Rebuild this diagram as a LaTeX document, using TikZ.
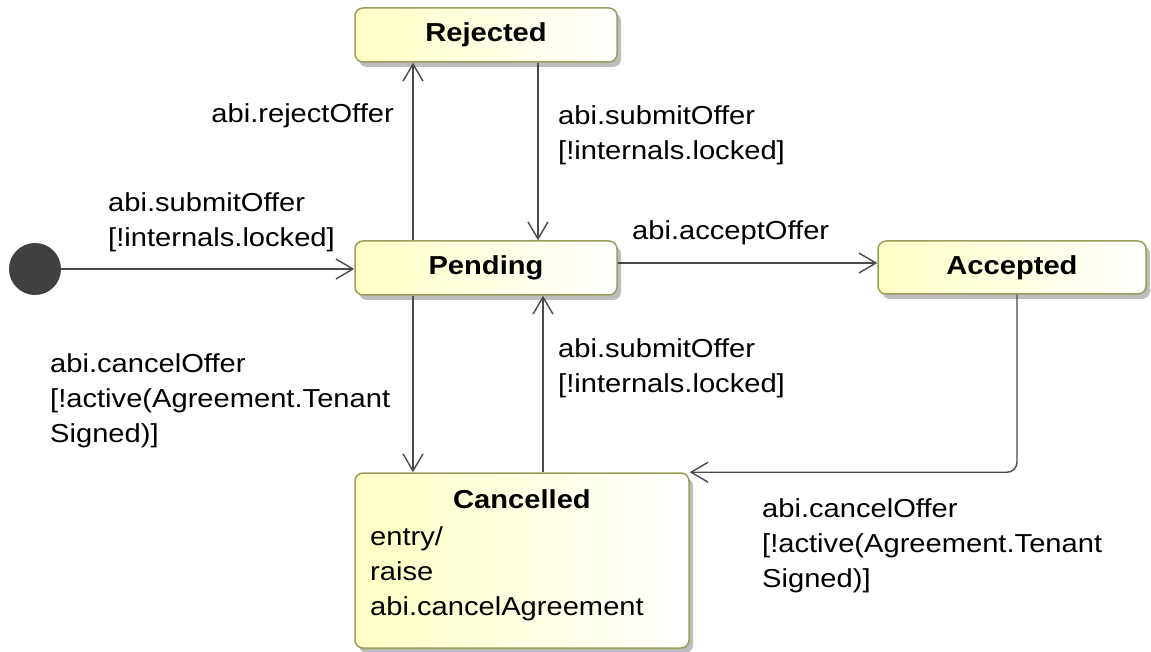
\documentclass[tikz,border=0pt]{standalone}
\usepackage{fontspec}
\setmainfont[FakeStretch=1.12]{Liberation Sans}
\usetikzlibrary{arrows.meta,shadows}
\definecolor{edgec}{HTML}{4A4A4A}
\definecolor{boxborder}{HTML}{9C9C5C}
\definecolor{boxfill}{HTML}{FFFFC4}
\definecolor{shadowc}{HTML}{BDBDBD}
\definecolor{initc}{HTML}{404040}
\begin{document}
\begin{tikzpicture}[x=1pt,y=-1pt,
  every node/.style={font=\fontsize{26}{35}\selectfont},
  statebox/.style={draw=boxborder, line width=1.5pt, rounded corners=8pt,
    left color=boxfill, right color=white, inner sep=0pt,
    drop shadow={shadow xshift=4pt, shadow yshift=-5pt, fill=shadowc, opacity=1}},
  trans/.style={draw=edgec, line width=1.4pt,
    -{Straight Barb[length=17pt,width=20pt,line width=1.4pt]}},
  lbl/.style={align=left, inner sep=0pt, anchor=base west},
  stxt/.style={inner sep=0pt, font=\fontsize{26}{35}\selectfont\bfseries}]
\useasboundingbox (0,0) rectangle (1151,652);

% states
\node[statebox, minimum width=262pt, minimum height=54pt] (rej) at (486,35) {};
\node[stxt] (rejt) at (rej.center) {Rejected};
\node[statebox, minimum width=262pt, minimum height=54pt] (pend) at (486,268) {};
\node[stxt] (pendt) at (pend.center) {Pending};
\node[statebox, minimum width=268pt, minimum height=53pt] (acc) at (1012,267.5) {};
\node[stxt] (acct) at (acc.center) {Accepted};
\node[statebox, minimum width=334pt, minimum height=175pt] (canc) at (522,560.5) {};
\node[stxt, anchor=base] (canct) at (522,508) {Cancelled};
\node[lbl] (cancb) at (370,615) {entry/\\raise\\abi.cancelAgreement};

% initial
\node[circle, fill=initc, minimum size=52pt, inner sep=0pt] (init) at (35,269) {};

% transitions
\draw[trans] (init.east) -- (init.east -| pend.west);
\draw[trans] ([xshift=-73pt]pend.north) -- ([xshift=-73pt]rej.south);
\draw[trans] ([xshift=52pt]rej.south) -- ([xshift=52pt]pend.north);
\draw[trans] ([yshift=5pt]pend.east) -- ([yshift=5pt]pend.east -| acc.west);
\draw[trans] ([xshift=-73pt]pend.south) -- ([xshift=-73pt]pend.south |- canc.north);
\draw[trans] ([xshift=21pt]canc.north) -- ([xshift=21pt]canc.north |- pend.south);
\draw[trans, rounded corners=10pt] ([xshift=5pt]acc.south) |- (canc.north east);

% labels (anchor: baseline of last line)
\node[inner sep=0pt, anchor=base east] (l1) at (394,123) {abi.rejectOffer};
\node[lbl] (l2) at (558,160) {abi.submitOffer\\{}[!internals.locked]};
\node[lbl] (l3) at (632,240) {abi.acceptOffer};
\node[lbl] (l4) at (108,247) {abi.submitOffer\\{}[!internals.locked]};
\node[lbl] (l5) at (558,392) {abi.submitOffer\\{}[!internals.locked]};
\node[lbl] (l6) at (50,442) {abi.cancelOffer\\{}[!active(Agreement.Tenant\\Signed)]};
\node[lbl] (l7) at (762,587) {abi.cancelOffer\\{}[!active(Agreement.Tenant\\Signed)]};
\end{tikzpicture}
\end{document}
